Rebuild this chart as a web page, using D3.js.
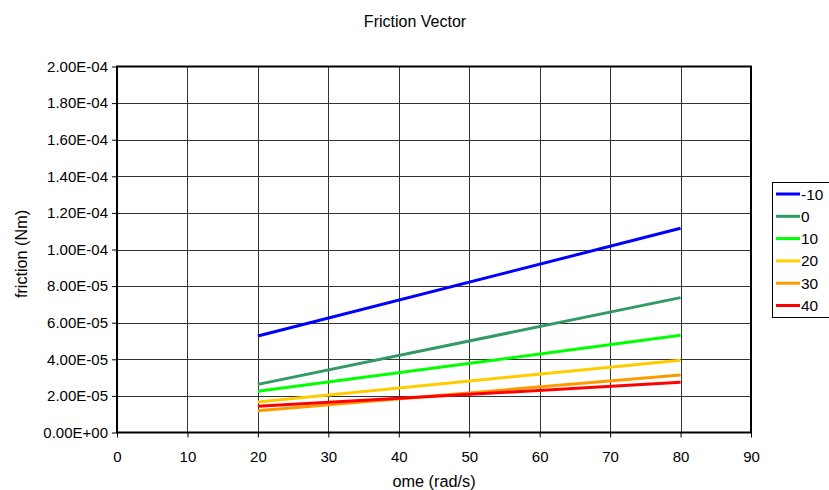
<!DOCTYPE html>
<html><head><meta charset="utf-8">
<script src="https://cdn.jsdelivr.net/npm/d3@7"></script>
<style>body{margin:0;background:#fff}svg{display:block}text{font-family:"Liberation Sans",Arial,sans-serif;fill:#000}</style>
</head><body><svg id="c" width="829" height="490"></svg>
<script>
const seriesNames = ["-10","0","10","20","30","40"];
const colors = ["#0000ff","#339966","#00ff00","#ffcc00","#ff9900","#ff0000"];
const omega = [20, 80];
const v_m10 = [5.27e-5, 1.116e-4];
const v_0 = [2.63e-5, 7.37e-5];
const v_10 = [2.25e-5, 5.31e-5];
const v_20 = [1.67e-5, 3.95e-5];
const v_30 = [1.19e-5, 3.14e-5];
const v_40 = [1.43e-5, 2.74e-5];
const seriesValues = [v_m10, v_0, v_10, v_20, v_30, v_40];
const xTicks = [0,10,20,30,40,50,60,70,80,90];
const yTicks = [0,2e-5,4e-5,6e-5,8e-5,1e-4,1.2e-4,1.4e-4,1.6e-4,1.8e-4,2e-4];
const yTickLabels = ["0.00E+00","2.00E-05","4.00E-05","6.00E-05","8.00E-05","1.00E-04","1.20E-04","1.40E-04","1.60E-04","1.80E-04","2.00E-04"];

const FF = "Liberation Sans, Arial, sans-serif";
const svg = d3.select("#c");
const L=117, R=751, T=66.5, B=432.5;
const x = d3.scaleLinear().domain([0,90]).range([L,R]);
const y = d3.scaleLinear().domain([0,2e-4]).range([B,T]);

// grid
svg.append("g").selectAll("line").data(yTicks.slice(1,-1)).join("line")
  .attr("x1",L).attr("x2",R).attr("y1",d=>Math.round(y(d))+0.5).attr("y2",d=>Math.round(y(d))+0.5)
  .attr("stroke","#333").attr("stroke-width",1);
svg.append("g").selectAll("line").data(xTicks.slice(1,-1)).join("line")
  .attr("y1",T).attr("y2",B).attr("x1",d=>Math.round(x(d))+0.5).attr("x2",d=>Math.round(x(d))+0.5)
  .attr("stroke","#333").attr("stroke-width",1);

// axes
const xAxis = d3.axisBottom(x).tickValues(xTicks).tickSize(5).tickPadding(14).tickFormat(d3.format("d"));
const gx = svg.append("g").attr("transform",`translate(0,${B})`).call(xAxis);
gx.select(".domain").remove();
gx.selectAll("line").attr("stroke","#000");
gx.selectAll("text").attr("font-size",15).style("font-family",FF);
const yAxis = d3.axisLeft(y).tickValues(yTicks).tickSize(5).tickPadding(4).tickFormat((d,i)=>yTickLabels[i]);
const gy = svg.append("g").attr("transform",`translate(${L},0)`).call(yAxis);
gy.select(".domain").remove();
gy.selectAll("line").attr("stroke","#000");
gy.selectAll("text").attr("font-size",15).style("font-family",FF);

// plot border
svg.append("rect").attr("x",L).attr("y",T).attr("width",R-L).attr("height",B-T)
  .attr("fill","none").attr("stroke","#000").attr("stroke-width",2);

// series
const line = d3.line().x((d,i)=>x(omega[i])).y(d=>y(d));
seriesValues.forEach((vals,k)=>{
  svg.append("path").datum(vals).attr("d",line).attr("fill","none")
    .attr("stroke",colors[k]).attr("stroke-width",3);
});

// titles
svg.append("text").attr("x",415).attr("y",26.5).attr("text-anchor","middle").attr("font-size",16).text("Friction Vector");
svg.append("text").attr("x",434).attr("y",487).attr("text-anchor","middle").attr("font-size",16.3).text("ome (rad/s)");
svg.append("text").attr("transform","translate(27,254) rotate(-90)").attr("text-anchor","middle").attr("font-size",16.2).text("friction (Nm)");

// legend
const lg = svg.append("g");
lg.append("rect").attr("x",772.5).attr("y",182.5).attr("width",60).attr("height",135)
  .attr("fill","#fff").attr("stroke","#000").attr("stroke-width",1);
seriesNames.forEach((n,k)=>{
  const yy = 194 + k*22.3;
  lg.append("line").attr("x1",776).attr("x2",800).attr("y1",yy).attr("y2",yy)
    .attr("stroke",colors[k]).attr("stroke-width",3);
  lg.append("text").attr("x",801).attr("y",yy+5.5).attr("font-size",15.4).text(n);
});
</script></body></html>
